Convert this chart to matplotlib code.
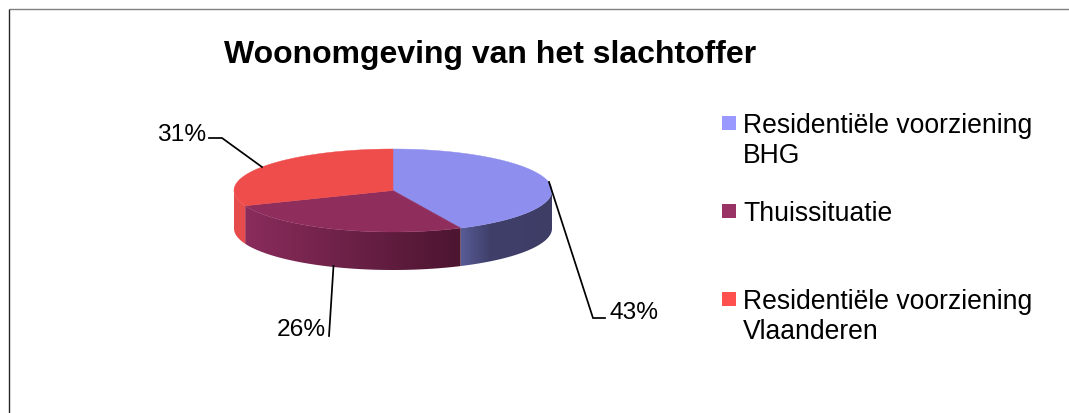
import numpy as np
import matplotlib
matplotlib.use("Agg")
import matplotlib.pyplot as plt
from matplotlib.patches import Polygon
from matplotlib.colors import to_rgb

plt.rcParams['font.family'] = ['Liberation Sans', 'DejaVu Sans']

title = "Woonomgeving van het slachtoffer"
categories = ["Residentiële voorziening\nBHG", "Thuissituatie", "Residentiële voorziening\nVlaanderen"]
values = [43, 26, 31]
labels = ["43%", "26%", "31%"]
legend_colors = ["#9999FF", "#993366", "#FF5050"]
top_colors = ["#8E8EEE", "#8F2E5D", "#EF4C4C"]
wall_stops = [
    [(0.0, "#585C96"), (0.32, "#3F3F6A"), (1.0, "#3D3D66")],
    [(0.0, "#8A2C5C"), (1.0, "#4C1530")],
    [(0.0, "#E64C4C"), (1.0, "#E64C4C")],
]

W, H = 1069, 414
fig = plt.figure(figsize=(W / 100, H / 100), dpi=100)
ax = fig.add_axes([0, 0, 1, 1])
ax.axis('off')

px = lambda p: p * 72 / 100

# chart frame
ax.plot([8.5, W], [9.5, 9.5], color="#808080", lw=1.0, solid_capstyle='butt')
ax.plot([8.5, 8.5], [9.5, H], color="#262626", lw=1.0, solid_capstyle='butt')

cx, cy, a, b, depth = 393, 191.5, 159, 41.5, 38


def pt(theta, dy=0.0):
    return cx + a * np.sin(theta), cy - b * np.cos(theta) + dy


edges = np.radians(np.concatenate([[0], np.cumsum(values)]) * 3.6)

# side walls, only the front half (90..270 degrees clockwise from the top)
for i in range(len(values)):
    lo, hi = max(edges[i], np.pi / 2), min(edges[i + 1], 3 * np.pi / 2)
    if lo >= hi:
        continue
    th = np.linspace(lo, hi, 200)
    xs, ys = pt(th)
    xa, xb = min(xs), max(xs)
    pos = [s[0] for s in wall_stops[i]]
    rgb = np.array([to_rgb(s[1]) for s in wall_stops[i]])
    f = np.linspace(0, 1, 256)
    grad = np.stack([np.interp(f, pos, rgb[:, k]) for k in range(3)], axis=-1)[None, :, :]
    poly = Polygon(np.c_[np.r_[xs, xs[::-1]], np.r_[ys, ys[::-1] + depth]],
                   closed=True, transform=ax.transData, facecolor='none', edgecolor='none')
    ax.add_patch(poly)
    im = ax.imshow(grad, extent=(xa, xb, ys.max() + depth, ys.min()), aspect='auto',
                   zorder=2, interpolation='nearest')
    im.set_clip_path(poly)

# top faces
for i in range(len(values)):
    th = np.linspace(edges[i], edges[i + 1], 200)
    xs, ys = pt(th)
    ax.fill(np.r_[cx, xs], np.r_[cy, ys], color=top_colors[i], lw=0.3, zorder=3)

# leader lines
leaders = [
    ([549, 593, 605], [183, 319, 319]),
    ([333.5, 329, 329], [267, 337, 337]),
    ([262, 222, 209], [168, 139, 139]),
]
for lx, ly in leaders:
    ax.plot(lx, ly, color="black", lw=1.25, zorder=4, solid_joinstyle='miter')

# percent labels
label_pos = [(609, 313), (277, 330), (157, 135)]
for s, (x, y) in zip(labels, label_pos):
    ax.text(x, y, s, fontsize=px(24.5), ha='left', va='center', color="black", zorder=5)

# title
ax.text(224, 55.5, title, fontsize=px(32), fontweight='bold', ha='left', va='center', color="black")

# legend
leg_y = [124, 212, 300]
for c, s, y in zip(legend_colors, categories, leg_y):
    ax.fill([722, 736, 736, 722], [y - 7, y - 7, y + 7, y + 7], color=c, lw=0)
    for k, ln in enumerate(s.split("\n")):
        ax.text(743, y + k * 30.5 + 9, ln, fontsize=px(26.5), ha='left', va='baseline', color="black")

ax.set_xlim(0, W)
ax.set_ylim(H, 0)
fig.savefig("out.png", dpi=100, facecolor="white")
